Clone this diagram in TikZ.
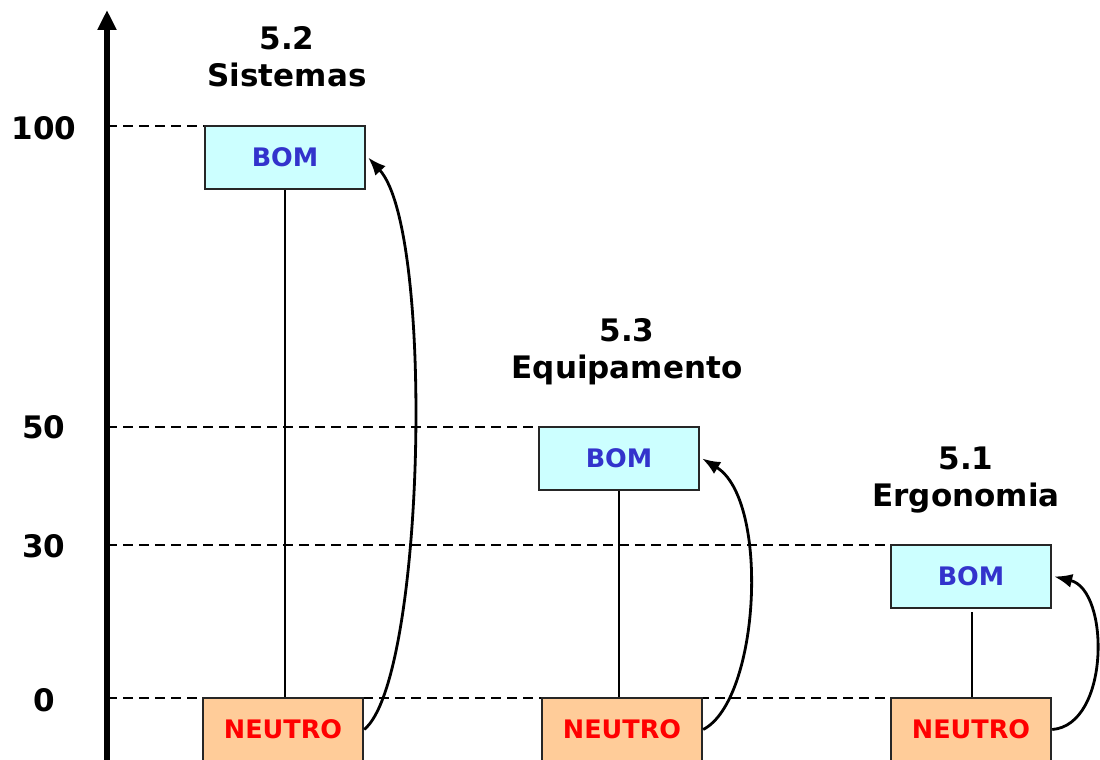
\documentclass[tikz,border=0pt]{standalone}
\usepackage{fontspec}
\setmainfont{DejaVu Sans}
\usetikzlibrary{arrows.meta}
\definecolor{bomfill}{HTML}{CCFFFF}
\definecolor{neufill}{HTML}{FFCC99}
\definecolor{bomtext}{HTML}{3333CC}
\definecolor{neutext}{HTML}{FF0000}
\begin{document}
\begin{tikzpicture}[x=1pt,y=-1pt,
  box/.style={draw=black!85,line width=2.4pt,minimum width=160pt,minimum height=63pt,inner sep=0pt,font=\fontsize{25.5}{28}\selectfont\bfseries},
  bombox/.style={box,fill=bomfill,text=bomtext},
  neubox/.style={box,fill=neufill,text=neutext},
  title/.style={font=\fontsize{31}{37}\selectfont\bfseries,align=center},
  axlab/.style={font=\fontsize{31}{37}\selectfont\bfseries,anchor=east},
  level/.style={dashed,dash pattern=on 10pt off 6pt,line width=2pt},
  stem/.style={line width=2.8pt},
  jump/.style={line width=2.8pt,-{Latex[length=18pt,width=14pt]}}]
\useasboundingbox (0,0) rectangle (1100,760);
\clip (0,0) rectangle (1100,760);
% level lines
\coordinate (l100a) at (107,126); \coordinate (l100b) at (365,126);
\coordinate (l50a) at (107,427); \coordinate (l50b) at (690,427);
\coordinate (l30a) at (107,545); \coordinate (l30b) at (1013,545);
\coordinate (l0a) at (107,698); \coordinate (l0b) at (1051,698);
\draw[level] (l100a) -- (l100b);
\draw[level] (l50a) -- (l50b);
\draw[level] (l30a) -- (l30b);
\draw[level] (l0a) -- (l0b);
% axis
\coordinate (axb) at (107,765); \coordinate (axt) at (107,10);
\draw[line width=5.5pt,-{Triangle[length=20pt,width=18pt]}] (axb) -- (axt);
\node[axlab] (t100) at (80,128) {100};
\node[axlab] (t50) at (69,427) {50};
\node[axlab] (t30) at (69,546) {30};
\node[axlab] (t0) at (59,700) {0};
% boxes
\node[bombox] (b1) at (285,157.5) {BOM};
\node[neubox] (n1) at (283,729.5) {NEUTRO};
\node[bombox] (b2) at (619,458.5) {BOM};
\node[neubox] (n2) at (622,729.5) {NEUTRO};
\node[bombox] (b3) at (971,576.5) {BOM};
\node[neubox] (n3) at (971,729.5) {NEUTRO};
% titles
\node[title] (h1) at (287,57) {5.2\\Sistemas};
\node[title] (h2) at (627,352) {5.3\\Equipamento};
\node[title] (h3) at (966,480) {5.1\\Ergonomia};
% stems
\draw[stem] (b1.south) -- (n1.north -| b1.south);
\draw[stem] (b2.south) -- (n2.north -| b2.south);
\coordinate (s3) at (972,612);
\draw[stem] (s3) -- (n3.north -| s3);
% curved arrows
\draw[jump] (n1.east) .. controls (425,680) and (435,230) .. ([xshift=2pt]b1.east);
\draw[jump] (n2.east) .. controls (760,700) and (770,500) .. ([xshift=2pt]b2.east);
\draw[jump] (n3.east) .. controls (1110,725) and (1110,590) .. ([xshift=2pt]b3.east);
\end{tikzpicture}
\end{document}
